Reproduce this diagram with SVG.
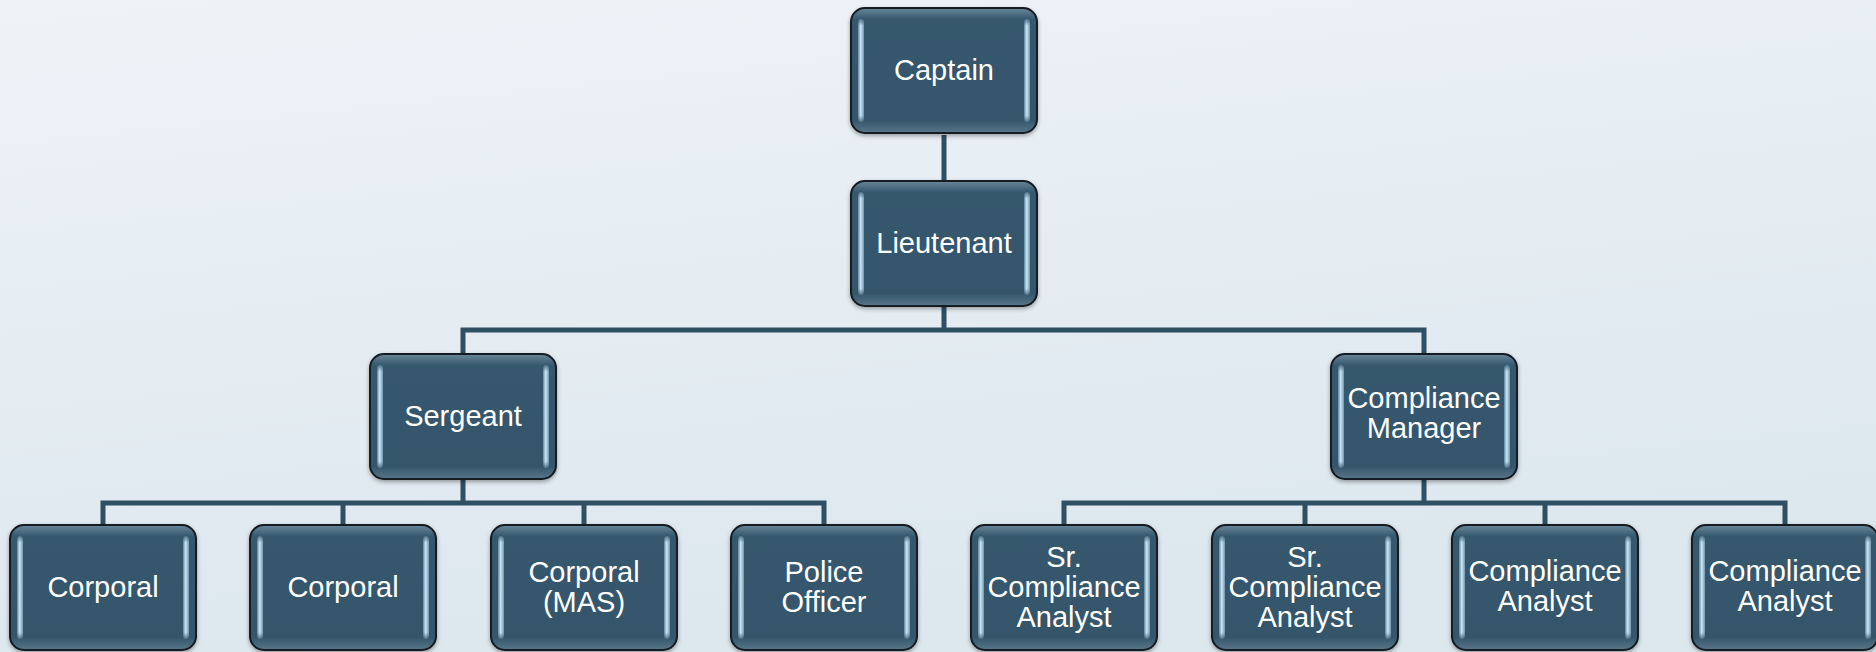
<svg xmlns="http://www.w3.org/2000/svg" xmlns:xlink="http://www.w3.org/1999/xlink" width="1876" height="652" viewBox="0 0 1876 652">
  <defs>
    <linearGradient id="bg" x1="0" y1="0" x2="0.3" y2="1">
      <stop offset="0" stop-color="#EEF3F7"/>
      <stop offset="1" stop-color="#DCE7EE"/>
    </linearGradient>
    <linearGradient id="boxFill" x1="0" y1="0" x2="0" y2="1">
      <stop offset="0" stop-color="#6A879A"/>
      <stop offset="0.09" stop-color="#36586D"/>
      <stop offset="0.9" stop-color="#34566B"/>
      <stop offset="1" stop-color="#58778A"/>
    </linearGradient>
    <linearGradient id="sideFill" x1="0" y1="0" x2="1" y2="0">
      <stop offset="0" stop-color="#5E889F"/>
      <stop offset="0.45" stop-color="#CBE6F4"/>
      <stop offset="1" stop-color="#6E97AE"/>
    </linearGradient>
    <linearGradient id="sideFade" x1="0" y1="0" x2="0" y2="1">
      <stop offset="0" stop-color="#fff" stop-opacity="0"/>
      <stop offset="0.08" stop-color="#fff" stop-opacity="1"/>
      <stop offset="0.92" stop-color="#fff" stop-opacity="1"/>
      <stop offset="1" stop-color="#fff" stop-opacity="0"/>
    </linearGradient>
    <mask id="fadeMask" maskUnits="userSpaceOnUse" x="0" y="0" width="188" height="127">
      <rect x="0" y="10" width="188" height="107" fill="url(#sideFade)"/>
    </mask>
    <filter id="shadow" x="-10%" y="-10%" width="120%" height="125%">
      <feDropShadow dx="0" dy="2" stdDeviation="2" flood-color="#000" flood-opacity="0.35"/>
    </filter>
    <g id="box">
      <rect x="1" y="1" width="186" height="125" rx="14" ry="14" fill="url(#boxFill)" stroke="#121A20" stroke-width="2" filter="url(#shadow)"/>
      <g mask="url(#fadeMask)">
        <rect x="8" y="12" width="6" height="103" rx="3" fill="url(#sideFill)"/>
        <rect x="174" y="12" width="6" height="103" rx="3" fill="url(#sideFill)"/>
      </g>
    </g>
    <style>
      .lbl { font-family: "Liberation Sans", Arial, sans-serif; font-size: 29px; fill: #FFFFFF; text-anchor: middle; }
      .conn { fill: none; stroke: #2F4F63; stroke-width: 5; stroke-linejoin: miter; stroke-linecap: butt; }
    </style>
  </defs>

  <rect x="0" y="0" width="1876" height="652" fill="url(#bg)"/>

  <g id="connectors">
    <path class="conn" d="M944 135 V180"/>
    <path class="conn" d="M944 307 V330 M463 353 V330 H1424 V353"/>
    <path class="conn" d="M463 480 V503 M103 525 V503 H824 V525 M343 503 V525 M584 503 V525"/>
    <path class="conn" d="M1424 480 V503 M1064 525 V503 H1785 V525 M1305 503 V525 M1545 503 V525"/>
  </g>

  <g id="captain">
    <use xlink:href="#box" x="850" y="7"/>
    <text class="lbl" x="944" y="80">Captain</text>
  </g>
  <g id="lieutenant">
    <use xlink:href="#box" x="850" y="180"/>
    <text class="lbl" x="944" y="253">Lieutenant</text>
  </g>
  <g id="sergeant">
    <use xlink:href="#box" x="369" y="353"/>
    <text class="lbl" x="463" y="426">Sergeant</text>
  </g>
  <g id="compliance-manager">
    <use xlink:href="#box" x="1330" y="353"/>
    <text class="lbl" x="1424" y="408">Compliance</text>
    <text class="lbl" x="1424" y="438">Manager</text>
  </g>

  <g id="corporal-1">
    <use xlink:href="#box" x="9" y="524"/>
    <text class="lbl" x="103" y="597">Corporal</text>
  </g>
  <g id="corporal-2">
    <use xlink:href="#box" x="249" y="524"/>
    <text class="lbl" x="343" y="597">Corporal</text>
  </g>
  <g id="corporal-mas">
    <use xlink:href="#box" x="490" y="524"/>
    <text class="lbl" x="584" y="582">Corporal</text>
    <text class="lbl" x="584" y="612">(MAS)</text>
  </g>
  <g id="police-officer">
    <use xlink:href="#box" x="730" y="524"/>
    <text class="lbl" x="824" y="582">Police</text>
    <text class="lbl" x="824" y="612">Officer</text>
  </g>
  <g id="sr-compliance-analyst-1">
    <use xlink:href="#box" x="970" y="524"/>
    <text class="lbl" x="1064" y="567">Sr.</text>
    <text class="lbl" x="1064" y="597">Compliance</text>
    <text class="lbl" x="1064" y="627">Analyst</text>
  </g>
  <g id="sr-compliance-analyst-2">
    <use xlink:href="#box" x="1211" y="524"/>
    <text class="lbl" x="1305" y="567">Sr.</text>
    <text class="lbl" x="1305" y="597">Compliance</text>
    <text class="lbl" x="1305" y="627">Analyst</text>
  </g>
  <g id="compliance-analyst-1">
    <use xlink:href="#box" x="1451" y="524"/>
    <text class="lbl" x="1545" y="581">Compliance</text>
    <text class="lbl" x="1545" y="611">Analyst</text>
  </g>
  <g id="compliance-analyst-2">
    <use xlink:href="#box" x="1691" y="524"/>
    <text class="lbl" x="1785" y="581">Compliance</text>
    <text class="lbl" x="1785" y="611">Analyst</text>
  </g>
</svg>
